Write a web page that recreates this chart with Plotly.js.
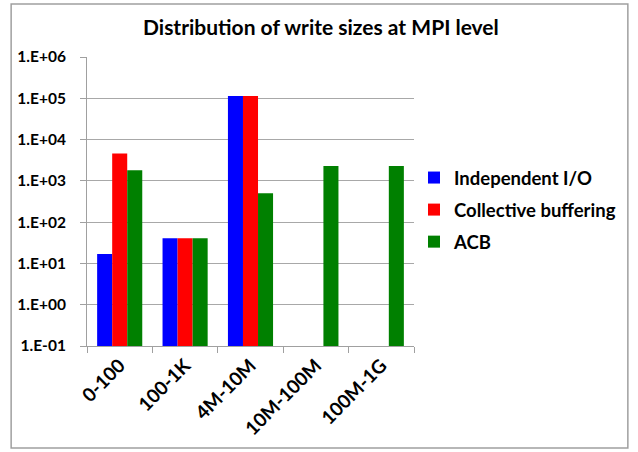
<!DOCTYPE html>
<html>
<head>
<meta charset="utf-8">
<script src="https://cdn.plot.ly/plotly-3.0.1.min.js"></script>
<style>html,body{margin:0;padding:0;background:#fff;}#chart{width:638px;height:452px;}</style>
</head>
<body>
<div id="chart"></div>
<script>
var categories = ["0-100", "100-1K", "4M-10M", "10M-100M", "100M-1G"];
var independentIO = [17, 41, 113000, null, null];
var collectiveBuffering = [4600, 41, 113000, null, null];
var acb = [1800, 41, 500, 2300, 2300];
var yTickVals = [0.1, 1, 10, 100, 1000, 10000, 100000, 1000000];
var yTickText = ["1.E-01", "1.E+00", "1.E+01", "1.E+02", "1.E+03", "1.E+04", "1.E+05", "1.E+06"];

var font = "Lato, 'Open Sans', sans-serif";
function tr(name, vals, color, grp) {
  return {type: "bar", name: name, x: categories, y: vals, marker: {color: color, line: {width: 0}}, legendgroup: grp};
}
var data = [
  tr("Independent I/O", independentIO, "#0000ff", "a"),
  tr("Collective buffering", collectiveBuffering, "#ff0000", "b"),
  tr("ACB", acb, "#008000", "c")
];
var layout = {
  width: 638, height: 452,
  margin: {l: 87, r: 224, t: 57, b: 106},
  paper_bgcolor: "#fff", plot_bgcolor: "#fff",
  font: {family: font, color: "#000"},
  title: {text: "Distribution of write sizes at MPI level", font: {family: font, size: 21, weight: "bold", color: "#000"}, x: 0.503, xref: "container", xanchor: "center", y: 0.938, yref: "container", yanchor: "middle"},
  barmode: "group", bargap: 0.31, bargroupgap: 0,
  xaxis: {type: "category", tickson: "boundaries", ticks: "outside", ticklen: 6, tickcolor: "#a0a0a0",
    showline: true, linecolor: "#a0a0a0", linewidth: 1, showgrid: false, tickangle: -45,
    tickfont: {family: font, size: 19, weight: "bold", color: "#000"}, fixedrange: true},
  yaxis: {type: "log", range: [-1, 6], tickvals: yTickVals, ticktext: yTickText, ticks: "outside", ticklen: 6,
    tickcolor: "#a0a0a0", showline: true, linecolor: "#a0a0a0", gridcolor: "#a8a8a8", gridwidth: 1,
    ticklabelstandoff: 11,
    tickfont: {family: font, size: 15.5, weight: "bold", color: "#000"}, zeroline: false},
  showlegend: true,
  legend: {x: 1.0, y: 0.647, xanchor: "left", yanchor: "top", traceorder: "grouped", tracegroupgap: 5,
    font: {family: font, size: 18.5, weight: "bold", color: "#000"}, itemwidth: 30, bgcolor: "rgba(0,0,0,0)"},
  shapes: [{type: "rect", xref: "paper", yref: "paper", x0: -0.232, x1: 1.654, y0: -0.353, y1: 1.183,
    line: {color: "#a0a0a0", width: 1.5}, fillcolor: "rgba(0,0,0,0)", layer: "below"}]
};
Plotly.newPlot("chart", data, layout, {staticPlot: true});
</script>
</body>
</html>
